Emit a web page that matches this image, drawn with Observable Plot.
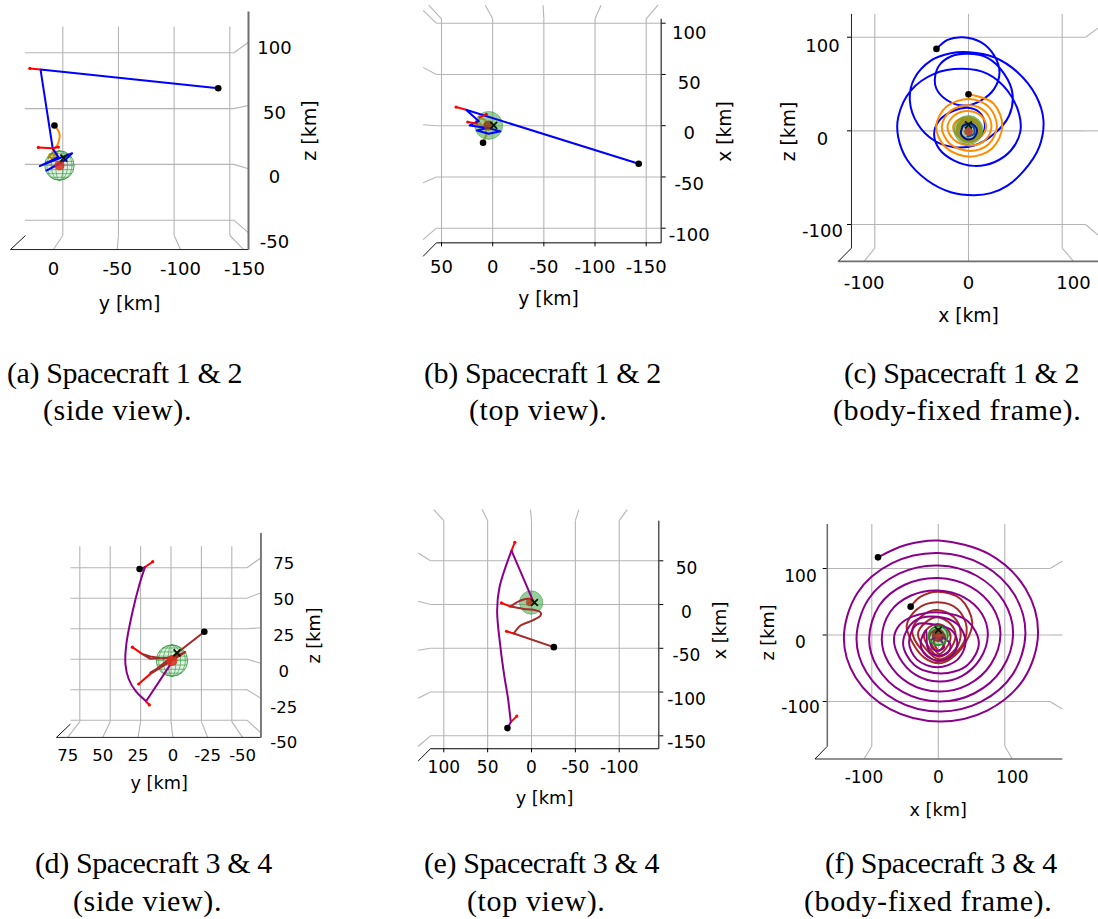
<!DOCTYPE html>
<html>
<head>
<meta charset="utf-8">
<script src="https://cdn.jsdelivr.net/npm/d3@7"></script>
<script src="https://cdn.jsdelivr.net/npm/@observablehq/plot@0.6"></script>
<style>
html,body{margin:0;padding:0;background:#fff;width:1098px;height:919px;overflow:hidden}
#page{position:relative;width:1098px;height:919px}
#page svg{position:absolute;background:none}
#page svg, #page svg text{font-family:"DejaVu Sans",sans-serif !important}
.cap{position:absolute;font-family:"Liberation Serif",serif;font-size:30px;line-height:30px;white-space:nowrap;color:#000}
.l1{letter-spacing:-0.4px}
.l2{letter-spacing:0.62px}
</style>
</head>
<body>
<div id="page"></div>
<script>
// ---------- captions ----------
const captions = [
  ["(a) Spacecraft 1 & 2", 7, 358, "l1"], ["(side view).", 43, 395, "l2"],
  ["(b) Spacecraft 1 & 2", 424, 358, "l1"], ["(top view).", 469, 395, "l2"],
  ["(c) Spacecraft 1 & 2", 844, 358, "l1"], ["(body-fixed frame).", 833, 395, "l2"],
  ["(d) Spacecraft 3 & 4", 35, 848, "l1"], ["(side view).", 73, 886, "l2"],
  ["(e) Spacecraft 3 & 4", 424, 848, "l1"], ["(top view).", 467, 886, "l2"],
  ["(f) Spacecraft 3 & 4", 825, 848, "l1"], ["(body-fixed frame).", 804, 886, "l2"]
];

// ---------- sphere wire table (unit sphere, read as a small table) ----------
const wireZ = [-1, -0.87, -0.5, 0, 0.5, 0.87, 1];
const wireW = [0, 0.5, 0.87, 1, 0.87, 0.5, 0];
const wireMeridians = [-0.85, -0.55, -0.25, 0.25, 0.55, 0.85];
const wireParallels = [[-0.8, 0.6], [-0.55, 0.83], [-0.28, 0.96], [0, 1], [0.28, 0.96], [0.55, 0.83], [0.8, 0.6]];

// ---------- panel (a) ----------
const aBlue = [[-139.6,68.3],[20,85],[9,14],[4,6.5],[20.7,-1.6],[6.6,4.2],[-8.4,10],[-2.4,4.1],[14.6,-5.5],[4,0],[-2.4,4.1]];
const aOrange = [[7.5,34.9],[3,27.5],[4.4,18.5],[8.1,13.2],[11,8],[8,12],[5,10],[8,6],[4,5],[10,5],[12,9],[6,8],[3,6],[9,9],[13,6]];
const aStubs = [[20,85,29.6,86],[9,14.5,22,15.2],[9,14.5,4,15.5]];
const aDots = [[-139.6,68.3],[7.5,34.9]];

// ---------- panel (b) ----------
const bBlue = [[-142.7,-37.1],[26.1,15.6],[13.7,4.6],[22.5,0.3],[12,-1.3],[4.9,-2],[15.3,-4.6],[3.9,-7.8],[-7.5,-5.5],[4.9,-2]];
const bOrange = [[9.4,-16.6],[6.2,-7.8],[7.2,-2.9],[12,-0.7],[15.3,2],[12,6.8],[7,5],[10,0],[13,3]];
const bStubs = [[26.1,15.6,35.8,18.2],[14.7,2,24.4,3.6],[13.7,7.8,6.2,11]];
const bDots = [[-142.7,-37.1],[9.4,-16.6]];

// ---------- panel (c) ----------
const cBlue = [[-34.2,87.5],[-22.4,97.2],[-6.4,100],[13.2,94.7],[27.4,80.4],[33.1,62.6],[27.4,44.8],[13.2,32.4],[-4.6,27],[-22.4,32.4],[-34.2,44.8],[-35.9,55.5],[-31.3,69.8],[-18.9,79.4],[-1.1,82.2],[20.3,77.9],[38.1,60.9],[47,39.5],[43.4,16.4],[27.4,-3.2],[6,-15.7],[-15.3,-17.4],[-36.7,-10.3],[-54.4,7.5],[-62.6,32.4],[-58,55.5],[-40.2,75],[-18.9,82.9],[0.7,84],[27.4,78.6],[52.3,62.6],[71.9,37.7],[80,11],[75.4,-17.4],[59.4,-42.3],[41.6,-58.4],[23.8,-66.5],[6,-68.7],[-18.9,-65.5],[-43.8,-53],[-65,-31.7],[-75,-6.8],[-75,14.6],[-61.6,43],[-36.7,60.9],[-6.4,66.2],[20.3,60.9],[41.6,43],[54,18],[55.2,-1.4],[45.2,-21],[27.4,-33.5],[6,-37.4],[-15.3,-31.7],[-31.3,-19.2],[-36.7,-3.2],[-31.3,11],[-15.3,21.7],[-1,24.6],[11.4,20],[17.4,7.5],[13.9,-5],[2.5,-10],[-8,-7],[-10,2],[-3,7.5],[5,4.6],[6,-3.2],[-1,-6]];
const cOrange = [[0,39],[26.4,29.5],[36.1,4.9],[25.4,-18.5],[1.5,-27.6],[-24.5,-17.5],[-34.5,4.8],[-23.4,25.9],[1.5,34],[22.4,24.8],[30.3,4.6],[21.4,-14.4],[1.5,-21.5],[-20.2,-13.4],[-28.5,4.5],[-19.2,21.3],[1.5,27.4],[18.3,20.1],[24.5,4.4],[17.3,-10.3],[1.5,-15.6],[-15.9,-9.2],[-22.4,4.2],[-14.9,16.6],[1.5,21],[14.2,15.4],[18.8,4.1],[13.2,-6.1],[1.5,-9.7],[-11.7,-5.1],[-16.4,4],[-10.6,11.9],[1.5,14.4],[9.7,10.2],[13.5,1],[9.7,-8.2],[0.5,-12],[-8.7,-8.2],[-12.5,1],[-8.7,10.2],[0.5,12.5],[8.6,9.1],[12,1],[8.6,-7.1],[0.5,-10.5],[-7.6,-7.1],[-11,1],[-7.6,9.1],[0.5,11],[7.6,8.1],[10.5,1],[7.6,-6.1],[0.5,-9],[-6.6,-6.1],[-9.5,1],[-6.6,8.1],[0.5,9.5]];
const cBlueInner = [[-6,5],[3,8],[9,1],[6,-7],[-2,-9],[-8,-3],[-6,5]];
const cDots = [[-34.2,87.5],[0,39]];

// ---------- panel (d) ----------
const dPurpleStart = [[25.8,74],[21.4,75.6]];
const dPurple = [[21.4,75.6],[25.8,61.9],[32,37.3],[36.7,12.6],[37.5,-3.8],[34.8,-16.2],[29.3,-25.8],[20.5,-34.5]];
const dPurpleEnd = [[20.5,-34.5],[1.1,-5.2],[-1,1]];
const dBrown = [[-27.4,22.5],[17,-12],[-11.8,5.8],[-3.6,2.5],[6,0.5],[17,2.2],[23.8,4.4],[17,0.3],[6,1],[-3.6,1.5],[-11.8,5.8],[17,-11]];
const dStubs = [[21.4,75.6,15,80],[20.5,-34.5,17.8,-37.5],[17,-12,26.6,-20.3],[23.8,4.4,31.8,9.9]];
const dDots = [[25.8,74],[-27.4,22.5]];

// ---------- panel (e) ----------
const ePurpleStart = [[27.4,-141.2],[23.6,-134.4]];
const ePurple = [[23.6,-134.4],[27,-105.8],[30.8,-83],[35.4,-48.7],[39.2,-6.9],[36.5,19.8],[22.8,61.7]];
const ePurpleEnd = [[22.8,61.7],[-0.8,6.5]];
const eBrownStart = [[-25.5,-48.7],[20.2,-33.1]];
const eBrown = [[20.2,-33.1],[12.5,-24],[-0.8,-18.3],[-10.3,-12.6],[-10.3,-8.8],[-0.8,-5.7],[8.7,-5],[24,-2.3]];
const eBrownEnd = [[24,-2.3],[12.5,4.6],[3,6.5],[-2,4.5],[3,2]];
const eStubs = [[23.6,-134.4,16.7,-127.5],[22.8,61.7,19,71.2],[20.2,-33.1,28.5,-30.5],[24,-2.3,34.2,1.9]];
const eDots = [[27.4,-141.2],[-25.5,-48.7]];

// ---------- panel (f) ----------
const fPurple = [[-90.7,116.8],[-49.1,135.3],[1,142],[76.6,121.6],[131.3,69.4],[150,3],[128.5,-66.3],[73.4,-113.7],[2,-130],[-72.6,-111.5],[-124.4,-63.8],[-142,-5],[-121.6,63.2],[-69.4,108],[0,123.3],[67.1,105.4],[114.8,60],[131,2],[112.1,-58.8],[63.9,-100.6],[2,-115],[-63.1,-98.6],[-107.9,-56.3],[-123,-6],[-105.1,53.8],[-59.9,91.8],[0,104.5],[57.6,89.1],[98.4,50.7],[112.5,1],[95.6,-51.3],[54.4,-87.6],[1.5,-100],[-53.6,-85.6],[-91.4,-48.8],[-104,-6],[-88.7,44.4],[-50.4,75.6],[0,85.8],[48.1,72.9],[81.9,41.3],[93.5,1],[79.2,-43.8],[44.9,-74.6],[1,-85],[-44.1,-72.6],[-75,-41.3],[-85,-6],[-72.2,35],[-40.9,59.4],[0,67],[38.6,56.6],[65.5,32],[74.5,0],[62.7,-36.3],[35.4,-61.7],[1,-70],[-34.6,-59.6],[-58.5,-33.8],[-66.7,-6],[-59.1,14],[-39.1,27.6],[4,34],[44,21],[61,-12],[44,-45],[4,-58],[-36,-45],[-53,-12],[-36,21],[-1.5,27.5],[29,16],[41,-10.5],[29,-37],[-1.5,-48.5],[-32,-37],[-44,-10.5],[-32,16],[1,14],[20.5,6.6],[28.6,-12],[20.5,-30.6],[1,-38.3],[-18.5,-30.6],[-26.6,-12],[-18.5,6.6],[-16.5,-17.5],[-11.5,-27],[1,-31],[13.5,-27],[18.5,-17.5],[13.5,-8],[1,-3.5],[-11.5,-8],[-11.5,-14],[-8,-21],[0,-23.6],[8.5,-18.5],[6,-11],[0,-3.5]];
const fBrown = [[-41.6,42.6],[-26.6,57.6],[-0.5,65.2],[33.6,54.1],[51.1,19],[41.1,-11],[18.5,-36.1],[1,-42.6],[-21.6,-33.6],[-39.1,-11],[-47.6,14],[-31.6,39.1],[-1.5,49.1],[28.6,39.1],[42.6,11.5],[33.6,-18.5],[1,-39.6],[-24.1,-23.6],[-39.1,6.5],[-24.1,29.1],[-1.5,37.6],[23.6,26.6],[33.6,4],[26.1,-21],[1,-36.6],[-19,-21],[-30.6,1.5],[-19,19],[-1.5,26.6],[18.5,16.5],[26.1,-1],[16,-23.6],[1,-32.6],[-14,-18.5],[-21.6,-1],[-14,11.5],[-0.5,16.5],[13.5,9],[18.5,-3.5],[11,-21],[1,-28.6],[-9,-16],[-14,-3.5],[-7.5,6.5],[0,9],[8.5,1.5],[11,-8.5],[1,-23.6],[-6.5,-11],[-5.5,-1],[0,1.5],[8,0],[6,-6],[0,-9],[-7,-6],[-8,1],[-5,6],[0,7],[6,4],[6,-2],[0,-6],[-5,-3],[-4,2],[0,3]];
const fDots = [[-90.7,116.8],[-41.6,42.6]];

// ---------- axes: tick values, labels ----------
const C = {blue:"#0000ff", orange:"#ff8c00", purple:"#8a008a", brown:"#a52a2a", red:"#ff0000", grid:"#b5b5b5", axisGray:"#6e6e6e", axisDark:"#222"};

const panels = [
{ // (a)
  box:[0,0,340,335], frame:[10,11,248,249],
  xDomain:[0,-150], xRange:[62.3,229.3], yDomain:[100,-50], yRange:[52.3,219.7],
  gridX:[0,-50,-100,-150], gridXSpan:[123.6,-63.7], frontX:[8.4,-48.9,-105.7,-162.5], frontXAt:-76.3,
  gridY:[100,50,0,-50], gridYSpan:[34.1,-153.6], sideY:[109.5,52.8,-3.9,-61.3], sideYAt:-166.8,
  corner:[47,-76.3,33.5,-63.7],
  xAxis:[47,-166.8,-76.3,C.axisDark,1], yAxis:[-166.8,137,-76.3,C.axisGray,2],
  xTicks:[], xLabelPos:[8.4,-48.9,-105.7,-163.2], xLabels:["0","-50","-100","-150"],
  yAnchor:"right", yTicks:[], yLabelPos:[103.9,45.6,-11.7,-69.7], yLabels:["100","50","0","-50"],
  font:18, labelFont:19, xPad:13, yPad:26, xLabel:"y [km]", yLabel:"z [km]",
  xLabelAt:[129,303], yLabelAt:[309,130],
  under:[[aOrange,C.orange,"catmull-rom"]], over:[[aBlue,C.blue,"linear"]],
  sphere:[3,-1,13.2,"wire",14.7], core:[3,-1,5,"#d8301f"], times:[-0.9,5.6], stubs:aStubs, dots:aDots
},
{ // (b)
  box:[400,0,340,335], frame:[436,19,660.7,242.3],
  xDomain:[50,-150], xRange:[441,645.7], yDomain:[100,-100], yRange:[22.7,227.7],
  gridX:[50,0,-50,-100,-150], gridXSpan:[-114.3,104.3], frontX:[62.5,7.2,-49.2,-105.9,-161.5], frontXAt:117.6,
  gridY:[100,50,0,-50,-100], gridYSpan:[55,-164.6], sideY:[112.5,56.9,1,-55.6,-111.2], sideYAt:68,
  corner:[55,-114.3,68,-127.5],
  xAxis:[55,-164.6,-114.3,"#000",1], yAxis:[-164.6,104.3,-114.3,"#000",1],
  xTicks:[50,0,-50,-100,-150], xLabelPos:[50,0,-50,-100,-150], xLabels:["50","0","-50","-100","-150"],
  yAnchor:"right", yTicks:[100,50,0,-50,-100], yLabelPos:[90.4,41.6,-7.8,-57.2,-107], yLabels:["100","50","0","-50","-100"],
  font:18, labelFont:18.7, xPad:13, yPad:28, xLabel:"y [km]", yLabel:"x [km]",
  xLabelAt:[548,299], yLabelAt:[725,131],
  under:[[bOrange,C.orange,"catmull-rom"]], over:[[bBlue,C.blue,"linear"]],
  sphere:[3.9,0.3,13.7,"disc",14], core:[3.9,0.3,5,"#8f3a16"], times:[-1,0.3], stubs:bStubs, dots:bDots
},
{ // (c)
  box:[780,0,318,335], frame:[851,13.3,1098,261],
  xDomain:[-100,100], xRange:[874.3,1061.7], yDomain:[100,-100], yRange:[36.7,224],
  gridX:[-100,0,100], gridXSpan:[124.9,-125.2], frontX:[-111.4,0,112.1], frontXAt:-139.4,
  gridY:[100,0,-100], gridYSpan:[-124.9,124.9], sideY:[110,0,-111.7], sideYAt:138.7,
  corner:[-124.9,-125.2,-139,-139.4],
  xAxis:[-139,138.7,-139.4,C.axisGray,1.6], yAxis:[-124.9,124.9,-125.2,C.axisDark,1],
  xTicks:[], xLabelPos:[-111.4,0,112.1], xLabels:["-100","0","100"],
  yAnchor:"left", yTicks:[100,0,-100], yLabelPos:[90.3,-8.5,-107.2], yLabels:["100","0","-100"],
  font:18, labelFont:18.7, xPad:14.4, yPad:29, xLabel:"x [km]", yLabel:"z [km]",
  xLabelAt:[968,316], yLabelAt:[789,131],
  under:[[cBlue,C.blue,"catmull-rom"],[cOrange,C.orange,"catmull-rom"]], over:[[cBlueInner,"#00109a","catmull-rom"]],
  sphere:[0,1,14,"disc",14.5], core:[0,-0.7,4.4,"#b8352a"], times:[0,6.4], stubs:[], dots:cDots
},
{ // (d)
  box:[40,515,300,300], frame:[56,532.7,260.7,736.7],
  xDomain:[75,-50], xRange:[79.3,231.3], yDomain:[75,-50], yRange:[567.3,719.7],
  gridX:[75,50,25,0,-25,-50], gridXSpan:[92.6,-51.2], frontX:[84.9,56.2,27.1,-1.6,-30.1,-58.9], frontXAt:-64.1,
  gridY:[75,50,25,0,-25,-50], gridYSpan:[82.7,-62.5], sideY:[83.3,54.5,25.8,-3.3,-32.1,-60.5], sideYAt:-74,
  corner:[94.2,-64.1,82.7,-53.2],
  xAxis:[94.2,-74,-64.1,C.axisDark,1], yAxis:[-74,103.6,-64.1,C.axisGray,1.8],
  xTicks:[], xLabelPos:[84.9,56.2,27.1,-1.6,-30.1,-58.9], xLabels:["75","50","25","0","-25","-50"],
  yAnchor:"right", yTicks:[], yLabelPos:[78.4,48.8,19.5,-9.9,-39.5,-68.2], yLabels:["75","50","25","0","-25","-50"],
  font:16.5, labelFont:17.7, xPad:12.3, yPad:22.6, xLabel:"y [km]", yLabel:"z [km]",
  xLabelAt:[158.7,783], yLabelAt:[314,635],
  under:[], over:[[dPurpleStart,C.purple,"linear"],[dPurple,C.purple,"catmull-rom"],[dPurpleEnd,C.purple,"linear"],[dBrown,C.brown,"linear"]],
  sphere:[-0.8,-1.1,12.9,"wire",15.7], core:[-0.8,-1.1,5.5,"#d8301f"], times:[-4.9,5.2], stubs:dStubs, dots:dDots
},
{ // (e)
  box:[400,505,340,310], frame:[430,520,658.3,748.3],
  xDomain:[100,-100], xRange:[443.3,618.7], yDomain:[50,-150], yRange:[560.3,735.3],
  gridX:[100,50,0,-50,-100], gridXSpan:[-164.8,95.9], frontX:[111.4,56.3,1.1,-54,-109.1], frontXAt:108.5,
  gridY:[50,0,-50,-100,-150], gridYSpan:[115.2,-145.2], sideY:[59,3.8,-52.2,-107,-162.2], sideYAt:129.3,
  corner:[115.2,-164.8,129.3,-178.9],
  xAxis:[115.2,-145.2,-164.8,"#000",1], yAxis:[-145.2,95.9,-164.8,"#000",1],
  xTicks:[100,50,0,-50,-100], xLabelPos:[100,50,0,-50,-100], xLabels:["100","50","0","-50","-100"],
  yAnchor:"right", yTicks:[50,0,-50,-100,-150], yLabelPos:[40.7,-8.8,-58.2,-108.5,-158], yLabels:["50","0","-50","-100","-150"],
  font:17, labelFont:17.8, xPad:8.2, yPad:27.7, xLabel:"y [km]", yLabel:"x [km]",
  xLabelAt:[544,797.7], yLabelAt:[720,630],
  under:[], over:[[ePurpleStart,C.purple,"linear"],[ePurple,C.purple,"catmull-rom"],[ePurpleEnd,C.purple,"linear"],[eBrownStart,C.brown,"linear"],[eBrown,C.brown,"catmull-rom"],[eBrownEnd,C.brown,"catmull-rom"]],
  sphere:[0.4,2.3,13.3,"disc",11.7], core:[2,2.3,3.8,"#b5451f"], times:[-3.4,2.3], stubs:eStubs, dots:eDots
},
{ // (f)
  box:[780,515,318,310], frame:[826.7,523.3,1061.7,758.3],
  xDomain:[-100,100], xRange:[871.3,1004.3], yDomain:[100,-100], yRange:[568,701],
  gridX:[-100,0,100], gridXSpan:[166.9,-167.4], frontX:[-111.8,0,111.3], frontXAt:-186.5,
  gridY:[100,0,-100], gridYSpan:[-166.9,167.9], sideY:[110.8,0,-111.3], sideYAt:186.5,
  corner:[-166.9,-167.4,-185.5,-186.5],
  xAxis:[-185.5,186.5,-186.5,C.axisGray,1.4], yAxis:[-166.9,166.9,-167.4,C.axisGray,1.6],
  xTicks:[], xLabelPos:[-111.8,0,111.3], xLabels:["-100","0","100"],
  yAnchor:"left", yTicks:[100,0,-100], yLabelPos:[87.7,-12,-109.8], yLabels:["100","0","-100"],
  font:17, labelFont:17.7, xPad:12.5, yPad:26.7, xLabel:"x [km]", yLabel:"z [km]",
  xLabelAt:[937.7,810], yLabelAt:[768,632],
  under:[[fBrown,C.brown,"catmull-rom"],[fPurple,C.purple,"catmull-rom"]], over:[],
  sphere:[0,-1,14,"ring",9.6], core:[0,-2,3.4,"#b8352a"], times:[0,7.5], stubs:[], dots:fDots
}
];

const page = document.getElementById("page");
for (const [t, l, top, cls] of captions) {
  const d = document.createElement("div");
  d.className = "cap " + cls; d.textContent = t; d.style.left = l + "px"; d.style.top = top + "px";
  page.appendChild(d);
}

const px = d => d[0], py = d => d[1];
function seriesMarks(list, w) {
  return list.map(([data, stroke, curve]) =>
    Plot.line(data, {x: px, y: py, stroke, strokeWidth: w, curve, strokeLinejoin: "round"}));
}
function sphereMarks(p) {
  const [cx, cy, R, kind, rpx] = p.sphere;
  const G = "#2f9e3a";
  const marks = [];
  if (kind === "wire") {
    marks.push(Plot.dot([[cx, cy]], {x: px, y: py, r: rpx, fill: G, fillOpacity: 0.14, stroke: G, strokeOpacity: 0.85, strokeWidth: 1}));
    for (const k of wireMeridians) {
      const pts = wireZ.map((z, i) => [cx + R * k * wireW[i], cy + R * z]);
      marks.push(Plot.line(pts, {x: px, y: py, stroke: G, strokeWidth: 0.9, strokeOpacity: 0.7, curve: "catmull-rom"}));
    }
    for (const [z, w] of wireParallels) {
      marks.push(Plot.link([[cx - R * w, cx + R * w, cy + R * z]], {x1: d => d[0], x2: d => d[1], y1: d => d[2], y2: d => d[2], stroke: G, strokeWidth: 0.9, strokeOpacity: 0.7}));
    }
  } else if (kind === "disc") {
    marks.push(Plot.dot([[cx, cy]], {x: px, y: py, r: rpx, fill: G, fillOpacity: 0.5, stroke: G, strokeOpacity: 0.5, strokeWidth: 1}));
  } else {
    marks.push(Plot.dot([[cx, cy]], {x: px, y: py, r: rpx, fill: "#2a7a30", fillOpacity: 0.35, stroke: "#1f9a2a", strokeWidth: 1.8}));
  }
  return marks;
}
const nearest = (at, span) => (Math.abs(at - span[0]) < Math.abs(at - span[1]) ? span[0] : span[1]);

for (const p of panels) {
  const [bx, by, bw, bh] = p.box;
  const [L, T, R, B] = p.frame;
  const lineW = 2;
  const xFmt = new Map(p.xLabelPos.map((v, i) => [v, p.xLabels[i]]));
  const yFmt = new Map(p.yLabelPos.map((v, i) => [v, p.yLabels[i]]));
  const gridStyle = {stroke: C.grid, strokeWidth: 1.1};
  const marks = [
    // grid lines on the back wall and their perspective tails
    Plot.link(p.gridX, {x1: d => d, x2: d => d, y1: () => p.gridXSpan[0], y2: () => p.gridXSpan[1], ...gridStyle}),
    Plot.link(p.gridY, {y1: d => d, y2: d => d, x1: () => p.gridYSpan[0], x2: () => p.gridYSpan[1], ...gridStyle}),
    Plot.link(p.gridX.map((g, i) => [g, p.frontX[i]]), {x1: d => d[0], x2: d => d[1], y1: () => nearest(p.frontXAt, p.gridXSpan), y2: () => p.frontXAt, ...gridStyle}),
    Plot.link(p.gridY.map((g, i) => [g, p.sideY[i]]), {y1: d => d[0], y2: d => d[1], x1: () => nearest(p.sideYAt, p.gridYSpan), x2: () => p.sideYAt, ...gridStyle}),
    // axis lines and corner
    Plot.link([p.xAxis], {x1: d => d[0], x2: d => d[1], y1: d => d[2], y2: d => d[2], stroke: d => d[3], strokeWidth: p.xAxis[4]}),
    Plot.link([p.yAxis], {y1: d => d[1], y2: d => d[2], x1: d => d[0], x2: d => d[0], stroke: d => d[3], strokeWidth: p.yAxis[4]}),
    Plot.link([p.corner], {x1: d => d[0], y1: d => d[1], x2: d => d[2], y2: d => d[3], stroke: "#111", strokeWidth: 1}),
    ...seriesMarks(p.under, lineW),
    ...sphereMarks(p),
    ...seriesMarks(p.over, lineW),
    Plot.dot([p.core], {x: px, y: py, r: p.core[2], fill: p.core[3], fillOpacity: 0.85}),
    Plot.link(p.stubs, {x1: d => d[0], y1: d => d[1], x2: d => d[2], y2: d => d[3], stroke: C.red, strokeWidth: 2}),
    Plot.dot(p.stubs, {x: d => d[2], y: d => d[3], r: 1.6, fill: C.red}),
    Plot.dot(p.dots, {x: px, y: py, r: 3.3, fill: "#000"}),
    Plot.dot([p.times], {x: px, y: py, r: 3.2, symbol: "times", stroke: "#001a00", strokeWidth: 1.8}),
    // tick labels
    Plot.axisX(p.xLabelPos, {anchor: "bottom", tickSize: 0, tickPadding: p.xPad + (p.xTicks.length ? 4 : 0), tickFormat: d => xFmt.get(d), label: null, fill: "#000"}),
    Plot.axisY(p.yLabelPos, {anchor: p.yAnchor, tickSize: 0, tickPadding: p.yPad, textAnchor: "middle", tickFormat: d => yFmt.get(d), label: null, fill: "#000"}),
    // axis titles
    Plot.text([p.xLabel], {text: d => d, frameAnchor: "bottom", lineAnchor: "middle", dx: p.xLabelAt[0] - (L + R) / 2, dy: p.xLabelAt[1] - B, fontSize: p.labelFont, textAnchor: "middle"}),
    Plot.text([p.yLabel], {text: d => d, frameAnchor: "middle", rotate: -90, dx: p.yLabelAt[0] - (L + R) / 2, dy: p.yLabelAt[1] - (T + B) / 2, fontSize: p.labelFont, textAnchor: "middle"})
  ];
  if (p.xTicks.length) marks.push(Plot.axisX(p.xTicks, {anchor: "bottom", tickSize: 4, tickFormat: () => "", label: null, stroke: "#000"}));
  if (p.yTicks.length) marks.push(Plot.axisY(p.yTicks, {anchor: p.yAnchor, tickSize: 4, tickFormat: () => "", label: null, stroke: "#000"}));

  const svg = Plot.plot({
    width: bw, height: bh,
    marginLeft: L - bx, marginTop: T - by, marginRight: bx + bw - R, marginBottom: by + bh - B,
    x: {axis: null, domain: p.xDomain, range: p.xRange.map(v => v - bx)},
    y: {axis: null, domain: p.yDomain, range: p.yRange.map(v => v - by)},
    style: {fontFamily: "'DejaVu Sans', sans-serif", fontSize: p.font + "px", background: "none", overflow: "visible", color: "#000"},
    marks
  });
  svg.style.left = bx + "px";
  svg.style.top = by + "px";
  page.appendChild(svg);
}
</script>
</body>
</html>
